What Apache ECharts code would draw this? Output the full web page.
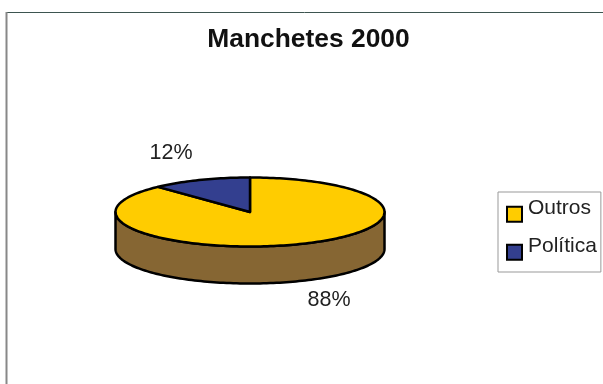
<!DOCTYPE html>
<html>
<head>
<meta charset="utf-8">
<style>html,body{margin:0;padding:0;background:#fff}#chart{width:603px;height:384px}</style>
<script src="https://cdn.jsdelivr.net/npm/echarts@6/dist/echarts.min.js"></script>
</head>
<body>
<div id="chart"></div>
<script>
// Headlines of the year 2000, split by subject
const categories = ['Outros', 'Política'];
const shares = [88, 12];
const topColors = ['#FFCC00', '#333F8F'];
const wallColors = ['#866633', '#1A2048'];
const chartTitle = 'Manchetes 2000';

// Tilted disc geometry
const CX = 250, CY = 212, RX = 134.5, RY = 34.5, DEPTH = 37;
const FONT = '"Liberation Sans", Arial, sans-serif';
const labelAnchors = [[329, 300], [171, 153]];

const total = shares.reduce((a, b) => a + b, 0);

// Screen point on the rim; angle is measured clockwise from twelve o'clock
function rim(a, dy) {
  return [CX + RX * Math.sin(a), CY - RY * Math.cos(a) + (dy || 0)];
}
function arcPoints(a0, a1, dy) {
  const n = Math.max(2, Math.ceil(Math.abs(a1 - a0) * 40));
  const pts = [];
  for (let i = 0; i <= n; i++) pts.push(rim(a0 + (a1 - a0) * i / n, dy));
  return pts;
}
function sliceRange(i) {
  const before = shares.slice(0, i).reduce((a, b) => a + b, 0);
  return [before / total * 2 * Math.PI, (before + shares[i]) / total * 2 * Math.PI];
}

function renderSlice(i) {
  return function () {
    const [a0, a1] = sliceRange(i);
    const children = [];
    // Side wall: only the part of the rim that faces the viewer
    const w0 = Math.max(a0, Math.PI / 2), w1 = Math.min(a1, 3 * Math.PI / 2);
    if (w1 > w0) {
      const front = arcPoints(w0, w1, 0);
      const back = arcPoints(w1, w0, DEPTH);
      children.push({
        type: 'polygon',
        shape: { points: front.concat(back) },
        style: { fill: wallColors[i], stroke: '#000', lineWidth: 2.5, lineJoin: 'round' }
      });
    }
    children.push({
      type: 'polygon',
      shape: { points: [[CX, CY]].concat(arcPoints(a0, a1, 0)) },
      style: { fill: topColors[i], stroke: '#000', lineWidth: 2.5, lineJoin: 'round' }
    });
    children.push({
      type: 'text',
      style: {
        x: labelAnchors[i][0], y: labelAnchors[i][1],
        text: Math.round(shares[i] / total * 100) + '%',
        font: '21.5px ' + FONT, fill: '#222', align: 'center', verticalAlign: 'middle'
      }
    });
    return { type: 'group', children };
  };
}

const chart = echarts.init(document.getElementById('chart'), null, { renderer: 'canvas' });
chart.setOption({
  animation: false,
  backgroundColor: '#fff',
  title: {
    text: chartTitle,
    left: 303.5, top: 22, textAlign: 'center',
    textStyle: { fontFamily: FONT, fontSize: 26.4, fontWeight: 'bold', color: '#111' }
  },
  legend: {
    orient: 'vertical',
    left: 498, top: 192,
    padding: [5.25, 4, 11.25, 8],
    itemGap: 12.5,
    itemWidth: 15, itemHeight: 15,
    icon: 'rect',
    borderColor: '#999', borderWidth: 1,
    selectedMode: false,
    data: categories,
    textStyle: {
      fontFamily: FONT, fontSize: 21, color: '#222',
      rich: { t: { fontFamily: FONT, fontSize: 21, color: '#222', padding: [0, 0, 13, 1] } }
    },
    formatter: '{t|{name}}'
  },
  graphic: [
    { type: 'line', shape: { x1: 6, y1: 12.5, x2: 603, y2: 12.5 }, style: { stroke: '#3D5550', lineWidth: 1 } },
    { type: 'line', shape: { x1: 6.5, y1: 12, x2: 6.5, y2: 384 }, style: { stroke: '#888', lineWidth: 2 } }
  ],
  series: categories.map((name, i) => ({
    type: 'custom',
    name,
    coordinateSystem: 'none',
    renderItem: renderSlice(i),
    itemStyle: { color: topColors[i], borderColor: '#000', borderWidth: 2 },
    data: [shares[i]],
    z: 2 + i
  }))
});
</script>
</body>
</html>
